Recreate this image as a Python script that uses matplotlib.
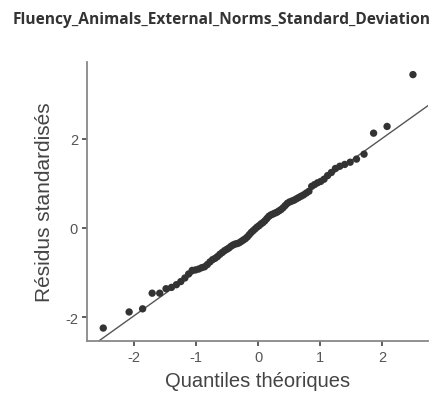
import numpy as np
import matplotlib
matplotlib.use("Agg")
import matplotlib.pyplot as plt
from statistics import NormalDist

# standardized residuals, sorted
residus = [
    -2.24, -1.88, -1.81, -1.46, -1.46, -1.36, -1.33, -1.27, -1.20, -1.12,
    -1.03, -0.95, -0.94, -0.92, -0.89, -0.87, -0.82, -0.76, -0.71, -0.68,
    -0.64, -0.59, -0.55, -0.51, -0.48, -0.45, -0.41, -0.38, -0.36, -0.35,
    -0.33, -0.30, -0.27, -0.24, -0.20, -0.15, -0.10, -0.06, -0.02, 0.02,
    0.05, 0.09, 0.12, 0.16, 0.21, 0.26, 0.29, 0.31, 0.33, 0.35,
    0.38, 0.41, 0.45, 0.50, 0.55, 0.58, 0.60, 0.62, 0.65, 0.68,
    0.71, 0.74, 0.78, 0.82, 0.93, 0.97, 1.01, 1.04, 1.09, 1.17,
    1.24, 1.33, 1.38, 1.42, 1.47, 1.54, 1.65, 2.12, 2.27, 3.43,
]
x_ticks = [-2, -1, 0, 1, 2]
y_ticks = [-2, 0, 2]
titre = "Fluency_Animals_External_Norms_Standard_Deviation"

y = np.sort(np.array(residus))
n = len(y)
nd = NormalDist()
p = (np.arange(1, n + 1) - 0.5) / n
theo = np.array([nd.inv_cdf(v) for v in p])

# qq line through the quartiles (like stat_qq_line)
q_y = np.quantile(y, [0.25, 0.75])
q_x = np.array([nd.inv_cdf(0.25), nd.inv_cdf(0.75)])
pente = (q_y[1] - q_y[0]) / (q_x[1] - q_x[0])
inter = q_y[0] - pente * q_x[0]

plt.rcParams['font.family'] = ['Liberation Sans', 'DejaVu Sans']

fig = plt.figure(figsize=(4.3, 4.06), dpi=100)
ax = fig.add_axes([0.2023, 0.1576, 0.793, 0.687])

xlim = (-2.76, 2.74)
ylim = (-2.53, 3.71)
xx = np.array(xlim)
ax.plot(xx, inter + pente * xx, color='#555555', linewidth=1.0, zorder=2)
ax.scatter(theo, y, s=28, color='#333333', edgecolors='none', zorder=3)

ax.set_xlim(xlim)
ax.set_ylim(ylim)
ax.set_xticks(x_ticks)
ax.set_yticks(y_ticks)
ax.set_xticklabels([str(t) for t in x_ticks])
ax.set_yticklabels([str(t) for t in y_ticks])

for s in ['top', 'right']:
    ax.spines[s].set_visible(False)
for s in ['left', 'bottom']:
    ax.spines[s].set_color('#888888')
    ax.spines[s].set_linewidth(1.3)
ax.tick_params(axis='both', length=3.5, width=1.1, color='#333333',
               labelcolor='#555555', labelsize=10.5, pad=3)

ax.set_xlabel('Quantiles théoriques', fontsize=14.5, color='#444444', labelpad=5)
ax.set_ylabel('Résidus standardisés', fontsize=15, color='#444444', labelpad=8)

fig.text(0.03, 0.95, titre, fontsize=11.2, fontweight='bold', color='#333333',
         family=['Open Sans', 'DejaVu Sans'], ha='left', va='center')

fig.savefig('out.png', dpi=100)
